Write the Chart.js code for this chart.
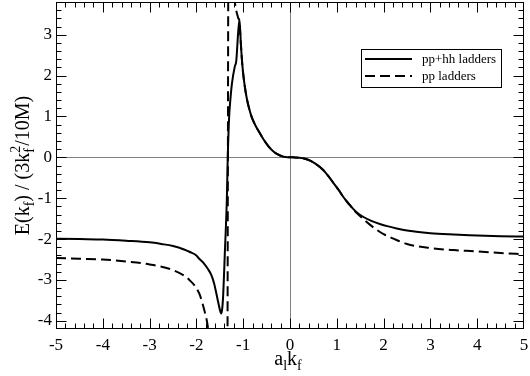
<!DOCTYPE html>
<html>
<head>
<meta charset="utf-8">
<script src="https://cdn.jsdelivr.net/npm/chart.js@4.4.0/dist/chart.umd.min.js"></script>
<style>
  html, body { margin: 0; padding: 0; background: #fff; }
  #wrap { width: 530px; height: 376px; position: relative; }
</style>
</head>
<body>
<div id="wrap"><canvas id="c"></canvas></div>
<script>
// energy vs a_l k_f, two ladder approximations

const xTicks = [-5, -4, -3, -2, -1, 0, 1, 2, 3, 4, 5];
const yTicks = [-4, -3, -2, -1, 0, 1, 2, 3];
const seriesNames = ['pp+hh ladders', 'pp ladders'];

// pp+hh ladders (solid)
const ppHhX = [-5, -4.5, -4, -3.5, -3, -2.75, -2.5, -2.25, -2.15, -2.0, -1.94, -1.85, -1.76, -1.68, -1.62,
  -1.55, -1.5, -1.47, -1.45, -1.43, -1.39, -1.35, -1.33, -1.3, -1.275, -1.24, -1.18, -1.15, -1.08,
  -1.05, -1.02, -0.98, -0.925, -0.87, -0.82, -0.73, -0.64, -0.55, -0.46, -0.36, -0.26, -0.18, -0.1, 0,
  0.1, 0.2, 0.3, 0.43, 0.55, 0.71, 0.82, 0.93, 1.04, 1.14, 1.25, 1.35, 1.45, 1.57, 1.75, 1.92, 2.1, 2.28, 2.5, 3, 3.5, 4, 4.5, 5];
const ppHhY = [-1.99, -2.0, -2.01, -2.04, -2.08, -2.12, -2.17, -2.26, -2.31, -2.4, -2.48, -2.58, -2.72, -2.88, -3.09,
  -3.46, -3.72, -3.82, -3.72, -3.42, -2.27, -1.05, 0, 1.0, 1.4, 1.81, 2.22, 2.34, 3.38,
  2.78, 2.28, 1.85, 1.45, 1.18, 0.99, 0.76, 0.58, 0.41, 0.27, 0.15, 0.07, 0.03, 0.01, 0,
  -0.002, -0.01, -0.03, -0.08, -0.16, -0.31, -0.46, -0.63, -0.8, -0.97, -1.13, -1.26, -1.37, -1.46, -1.56, -1.63, -1.69, -1.74, -1.79, -1.86, -1.89, -1.91, -1.93, -1.94];

// pp ladders (dashed); null = break at the poles
const ppX = [-5, -4.5, -4, -3.5, -3, -2.5, -2.15, -1.94, -1.84, -1.76, -1.72, -1.55,
  -1.335, -1.32, -1.26,
  -1.2, -1.15, -1.11, -1.08, -1.05, -1.02, -0.98, -0.925, -0.87, -0.82, -0.73, -0.64, -0.55, -0.46, -0.36, -0.26, -0.18, -0.1, 0,
  0.1, 0.2, 0.3, 0.43, 0.55, 0.71, 0.82, 0.93, 1.04, 1.14, 1.25, 1.35, 1.45, 1.57, 1.7, 1.85, 2.0, 2.21, 2.5, 3, 3.5, 4, 4.5, 5];
const ppY = [-2.46, -2.48, -2.5, -2.55, -2.62, -2.76, -3.0, -3.33, -3.7, -4.11, -4.5, null,
  -4.5, 4.0, null,
  3.95, 3.6, 3.42, 3.3, 2.78, 2.28, 1.85, 1.45, 1.18, 0.99, 0.76, 0.58, 0.41, 0.27, 0.15, 0.07, 0.03, 0.01, 0,
  -0.002, -0.01, -0.03, -0.08, -0.16, -0.31, -0.46, -0.63, -0.8, -0.97, -1.13, -1.27, -1.39, -1.51, -1.64, -1.77, -1.88, -1.99, -2.12, -2.22, -2.27, -2.3, -2.34, -2.37];

const FONT = '"Liberation Serif", "Times New Roman", serif';

function pts(xs, ys) {
  return xs.map((x, i) => ({ x, y: ys[i] }));
}

// zero lines behind, frame + inward ticks + legend on top
const framePlugin = {
  id: 'frameTicks',
  beforeDatasetsDraw(chart) {
    const { ctx, chartArea: a, scales: { x, y } } = chart;
    ctx.save();
    ctx.strokeStyle = '#808080';
    ctx.lineWidth = 1;
    const y0 = Math.round(y.getPixelForValue(0)) + 0.5;
    const x0 = Math.round(x.getPixelForValue(0)) + 0.5;
    ctx.beginPath();
    ctx.moveTo(a.left, y0); ctx.lineTo(a.right, y0);
    ctx.moveTo(x0, a.top); ctx.lineTo(x0, a.bottom);
    ctx.stroke();
    ctx.restore();
  },
  afterDatasetsDraw(chart) {
    const { ctx, chartArea: a, scales: { x, y } } = chart;
    const L = Math.round(a.left) + 0.5, R = Math.round(a.right) - 0.5;
    const T = Math.round(a.top) + 0.5, B = Math.round(a.bottom) - 0.5;
    ctx.save();
    ctx.strokeStyle = '#000';
    ctx.lineWidth = 1;
    ctx.strokeRect(L, T, R - L, B - T);
    ctx.beginPath();
    for (let i = 1; i < 50; i++) {
      const v = x.min + i * 0.2;
      const len = i % 5 === 0 ? 10 : 5;
      const px = Math.round(x.getPixelForValue(v)) + 0.5;
      ctx.moveTo(px, B); ctx.lineTo(px, B - len);
      ctx.moveTo(px, T); ctx.lineTo(px, T + len);
    }
    for (let i = 1; i < 40; i++) {
      const v = y.min + i * 0.2;
      const len = Math.abs(v - Math.round(v)) < 1e-6 ? 10 : 5;
      const py = Math.round(y.getPixelForValue(v)) + 0.5;
      ctx.moveTo(L, py); ctx.lineTo(L + len, py);
      ctx.moveTo(R, py); ctx.lineTo(R - len, py);
    }
    ctx.stroke();

    // legend
    const bx = 361.5, by = 49.5, bw = 140, bh = 38;
    ctx.fillStyle = '#fff';
    ctx.fillRect(bx, by, bw, bh);
    ctx.strokeRect(bx, by, bw, bh);
    ctx.font = '13px ' + FONT;
    ctx.textBaseline = 'middle';
    ctx.fillStyle = '#000';
    chart.data.datasets.forEach((ds, i) => {
      const ly = 59 + i * 17;
      ctx.save();
      ctx.lineWidth = 2;
      ctx.setLineDash(ds.borderDash || []);
      ctx.beginPath();
      ctx.moveTo(365, ly); ctx.lineTo(412, ly);
      ctx.stroke();
      ctx.restore();
      ctx.fillText(ds.label, 422, ly + 1);
    });
    ctx.restore();
  },
  afterDraw(chart) {
    const { ctx, chartArea: a } = chart;
    ctx.save();
    ctx.fillStyle = '#000';
    ctx.textBaseline = 'alphabetic';
    drawRich(ctx, [
      { t: 'a', s: 20 }, { t: 'l', s: 14, dy: 5 }, { t: 'k', s: 20 }, { t: 'f', s: 14, dy: 5 }
    ], 288, 365);
    ctx.translate(29, (a.top + a.bottom) / 2);
    ctx.rotate(-Math.PI / 2);
    drawRich(ctx, [
      { t: 'E(k', s: 20 }, { t: 'f', s: 14, dy: 5 }, { t: ') / (3k', s: 20 },
      { t: 'f', s: 14, dy: 5 }, { t: '2', s: 14, dy: -9, over: true }, { t: '/10M)', s: 20 }
    ], 0, 0);
    ctx.restore();
  }
};

function drawRich(ctx, parts, cx, cy) {
  const widths = parts.map(p => { ctx.font = p.s + 'px ' + FONT; return ctx.measureText(p.t).width; });
  let total = 0;
  parts.forEach((p, i) => {
    if (p.over) total += Math.max(0, widths[i] - widths[i - 1]);
    else total += widths[i];
  });
  let x = cx - total / 2;
  let lastStart = x;
  parts.forEach((p, i) => {
    ctx.font = p.s + 'px ' + FONT;
    if (p.over) {
      ctx.fillText(p.t, lastStart, cy + (p.dy || 0));
      x = Math.max(x, lastStart + widths[i]);
    } else {
      lastStart = x;
      ctx.fillText(p.t, x, cy + (p.dy || 0));
      x += widths[i];
    }
  });
}

new Chart(document.getElementById('c'), {
  type: 'scatter',
  data: {
    datasets: [
      {
        label: seriesNames[0],
        data: pts(ppHhX, ppHhY),
        showLine: true,
        borderColor: '#000',
        borderWidth: 2,
        pointRadius: 0,
        cubicInterpolationMode: 'monotone',
        spanGaps: false
      },
      {
        label: seriesNames[1],
        data: pts(ppX, ppY),
        showLine: true,
        borderColor: '#000',
        borderWidth: 2,
        borderDash: [10, 5],
        pointRadius: 0,
        cubicInterpolationMode: 'monotone',
        spanGaps: false
      }
    ]
  },
  options: {
    responsive: true,
    maintainAspectRatio: false,
    animation: false,
    layout: { padding: { top: 2, right: 6, left: 0, bottom: 0 } },
    plugins: { legend: { display: false }, tooltip: { enabled: false } },
    scales: {
      x: {
        type: 'linear',
        min: -5, max: 5,
        grid: { display: false, drawTicks: false },
        border: { display: false },
        afterBuildTicks: (s) => { s.ticks = xTicks.map(v => ({ value: v })); },
        afterFit: (s) => { s.height = 47; s.paddingLeft = 0; s.paddingRight = 0; },
        ticks: { color: '#000', padding: 6, maxRotation: 0, font: { family: FONT, size: 17 } }
      },
      y: {
        type: 'linear',
        min: -4.2, max: 3.8,
        grid: { display: false, drawTicks: false },
        border: { display: false },
        afterBuildTicks: (s) => { s.ticks = yTicks.map(v => ({ value: v })); },
        afterFit: (s) => { s.width = 56; s.paddingTop = 0; s.paddingBottom = 0; },
        ticks: { color: '#000', padding: 4, font: { family: FONT, size: 17 } }
      }
    }
  },
  plugins: [framePlugin]
});
</script>
</body>
</html>
